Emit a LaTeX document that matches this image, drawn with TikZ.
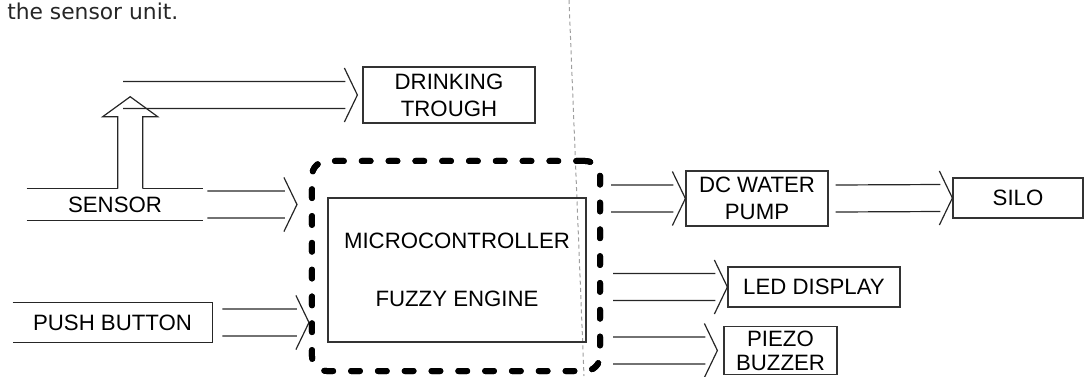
\documentclass[tikz,border=0pt]{standalone}
\usepackage{fontspec}
\setmainfont{Liberation Sans}
\newfontfamily\notefont{DejaVu Sans}
\usetikzlibrary{positioning}
\begin{document}
\begin{tikzpicture}[x=0.025cm,y=-0.025cm,
  font=\fontsize{15.8}{19}\selectfont,
  unit/.style={draw=black!80,line width=0.03cm,inner sep=0pt,align=center},
  bare/.style={inner sep=0pt,align=center},
  wire/.style={draw=black!85,line width=0.03cm},
  hollow/.style={wire,to path={
    ([shift={(0,-13.5)}]\tikztostart) -- ([shift={(-12,-13.5)}]\tikztotarget)
    ([shift={(0,13.5)}]\tikztostart) -- ([shift={(-12,13.5)}]\tikztotarget)
    ([shift={(-13,-27)}]\tikztotarget) -- (\tikztotarget) -- ([shift={(-13,27)}]\tikztotarget)}},
  fuzzybound/.style={draw=black,line width=0.15cm,dash pattern=on 0.22cm off 0.45cm,
    line cap=round,rounded corners=0.375cm,minimum width=7.2cm,minimum height=5.25cm}
]
  \useasboundingbox (0,0) rectangle (1085,376);
  % page text and scan fold
  \node[inner sep=0pt,anchor=base west,font=\notefont\fontsize{15.5}{18}\selectfont,text=black!85] (note) at (7,19) {the sensor unit.};
  \draw[gray!75,line width=0.025cm,dash pattern=on 0.1cm off 0.08cm] (569,0) -- (584,376);
  % blocks
  \node[unit,minimum width=4.3cm,minimum height=1.4cm] (trough) at (449,95) {DRINKING\\TROUGH};
  \node[bare,minimum width=4.4cm,minimum height=0.775cm] (sensor) at (115,204.5) {SENSOR};
  \node[bare,minimum width=4.975cm,minimum height=0.975cm] (push) at (112.5,322.5) {PUSH BUTTON};
  \node[unit,minimum width=6.45cm,minimum height=3.6cm] (mcu) at (457,270) {MICROCONTROLLER\\[22pt]FUZZY ENGINE};
  \node[unit,minimum width=3.55cm,minimum height=1.375cm] (pump) at (757,198.5) {DC WATER\\PUMP};
  \node[unit,minimum width=3.25cm,minimum height=1cm] (silo) at (1018,198) {SILO};
  \node[unit,minimum width=4.3cm,minimum height=1cm] (led) at (814,287) {LED DISPLAY};
  \node[unit,minimum width=2.825cm,minimum height=1.2cm,font=\fontsize{15.8}{17}\selectfont] (piezo) at (780.5,350.5) {PIEZO\\BUZZER};
  \node[fuzzybound] (bound) at (456,266) {};
  % open sides of sensor and push button
  \path (sensor.north west) ++(91,0) coordinate (upL) ++(25,0) coordinate (upR);
  \draw[wire] (sensor.north west) -- (upL) (upR) -- (sensor.north east)
    (sensor.south west) -- (sensor.south east);
  \draw[wire] (push.north west) -- (push.north east) -- (push.south east) -- (push.south west);
  % arrow end points
  \coordinate (tOut) at (123,95);
  \path (trough.west) ++(-5,0) coordinate (tIn);
  \path (sensor.east) ++(4,0) coordinate (sOut);
  \path (bound.west |- sensor.east) ++(-12,0) coordinate (sIn);
  \path (push.east) ++(10,0) coordinate (bOut);
  \path (bound.west |- push.east) coordinate (bIn);
  \path (bound.east |- pump.west) ++(8,0) coordinate (pOut);
  \path (pump.east) ++(7,0) coordinate (zOut);
  \path (bound.east |- led.west) ++(10,0) coordinate (lOut);
  \path (bound.east |- piezo.west) ++(10,0) coordinate (oOut);
  \path (piezo.west) ++(-6,0) coordinate (oIn);
  % hollow arrows
  \draw[hollow] (tOut) to (tIn);
  \draw[wire] (upL) -- ++(0,-72) -- ++(-15,0) -- ++(27.5,-20) -- ++(27.5,20) -- ++(-15,0) -- (upR);
  \draw[hollow] (sOut) to (sIn);
  \draw[hollow] (bOut) to (bIn);
  \draw[hollow] (pOut) to (pump.west);
  \draw[hollow] (zOut) to (silo.west);
  \draw[hollow] (lOut) to (led.west);
  \draw[hollow] (oOut) to (oIn);
  \node[fuzzybound] at (bound) {};
\end{tikzpicture}
\end{document}
